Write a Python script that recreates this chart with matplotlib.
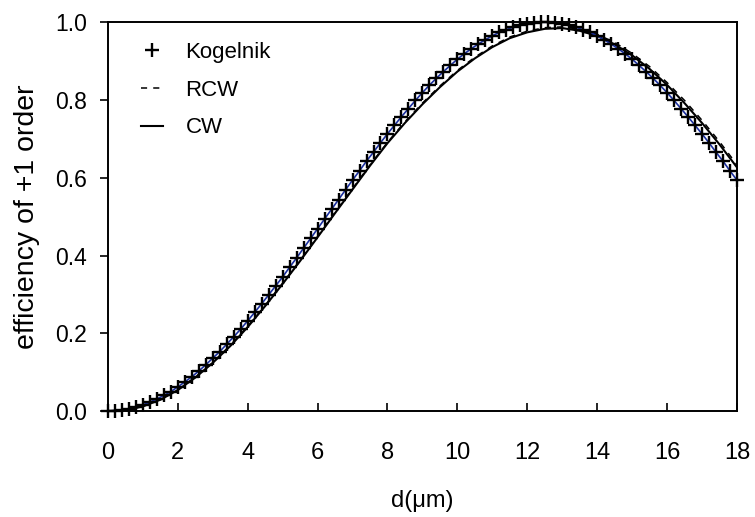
import numpy as np
import matplotlib
matplotlib.use("Agg")
import matplotlib.pyplot as plt

plt.rcParams['font.family'] = ['Liberation Sans', 'DejaVu Sans']

# Kogelnik points, every 0.2 um
d_kog = np.round(np.arange(0, 18.01, 0.2), 2)
eta_kog = [0.000, 0.001, 0.003, 0.006, 0.010, 0.016, 0.023, 0.031, 0.040, 0.050,
           0.062, 0.075, 0.088, 0.103, 0.119, 0.136, 0.153, 0.172, 0.191, 0.211,
           0.232, 0.254, 0.276, 0.299, 0.322, 0.345, 0.370, 0.394, 0.419, 0.444,
           0.469, 0.494, 0.519, 0.544, 0.569, 0.594, 0.618, 0.643, 0.666, 0.690,
           0.713, 0.735, 0.757, 0.778, 0.799, 0.819, 0.838, 0.856, 0.873, 0.889,
           0.905, 0.919, 0.932, 0.944, 0.955, 0.965, 0.974, 0.981, 0.987, 0.992,
           0.996, 0.999, 1.000, 1.000, 0.999, 0.996, 0.992, 0.987, 0.981, 0.974,
           0.965, 0.955, 0.944, 0.932, 0.919, 0.905, 0.889, 0.873, 0.856, 0.838,
           0.819, 0.799, 0.778, 0.757, 0.735, 0.713, 0.690, 0.666, 0.643, 0.618,
           0.594]

# coupled-wave results, every 0.5 um
d_cw = np.arange(0, 18.01, 0.5)
eta_cw = [0.000, 0.002, 0.012, 0.029, 0.054, 0.086, 0.124, 0.167, 0.216, 0.270,
          0.327, 0.386, 0.447, 0.509, 0.570, 0.631, 0.689, 0.741, 0.789, 0.833,
          0.873, 0.907, 0.936, 0.959, 0.974, 0.983, 0.985, 0.978, 0.965, 0.943,
          0.915, 0.880, 0.839, 0.792, 0.741, 0.686, 0.627]
eta_rcw = [0.000, 0.002, 0.012, 0.030, 0.055, 0.087, 0.125, 0.169, 0.218, 0.272,
           0.329, 0.388, 0.449, 0.511, 0.572, 0.633, 0.691, 0.744, 0.792, 0.836,
           0.876, 0.910, 0.939, 0.962, 0.977, 0.986, 0.988, 0.982, 0.969, 0.948,
           0.920, 0.886, 0.845, 0.799, 0.748, 0.693, 0.634]

fig = plt.figure(figsize=(7.55, 5.17), dpi=100)
ax = fig.add_axes([0.143, 0.205, 0.833, 0.752])

ax.plot(d_cw, eta_cw, '-', color='black', lw=1.5, label='CW')
ax.plot(d_cw, eta_rcw, '--', color='black', lw=1.1, dashes=(4, 4), label='RCW')
ax.plot(d_kog, eta_kog, '-', color='#1a2fa0', lw=1.2)
ax.plot(d_kog, eta_kog, '+', color='black', ms=10, mew=1.7, clip_on=False,
        label='Kogelnik')

ax.set_xlim(0, 18)
ax.set_ylim(0, 1.0)
ax.set_xticks(np.arange(0, 19, 2))
ax.set_yticks(np.arange(0, 1.01, 0.2))
ax.set_yticklabels([f"{v:.1f}" for v in np.arange(0, 1.01, 0.2)])
ax.tick_params(axis='x', direction='in', length=6, width=1.2, labelsize=17, pad=22)
ax.tick_params(axis='y', direction='out', length=6, width=1.2, labelsize=16.5, pad=9)
for s in ax.spines.values():
    s.set_linewidth(1.4)

ax.set_xlabel('d(\u03bcm)', fontsize=17, labelpad=19)
ax.set_ylabel('efficiency of +1 order', fontsize=20.5, labelpad=11)

h, l = ax.get_legend_handles_labels()
order = [2, 1, 0]
ax.legend([h[i] for i in order], [l[i] for i in order], loc='upper left',
          frameon=False, fontsize=16, handlelength=1.0, handletextpad=1.0,
          labelspacing=0.75, borderaxespad=0,
          bbox_to_anchor=(0.175, 0.936), bbox_transform=fig.transFigure)

fig.savefig('out.png', dpi=100)
